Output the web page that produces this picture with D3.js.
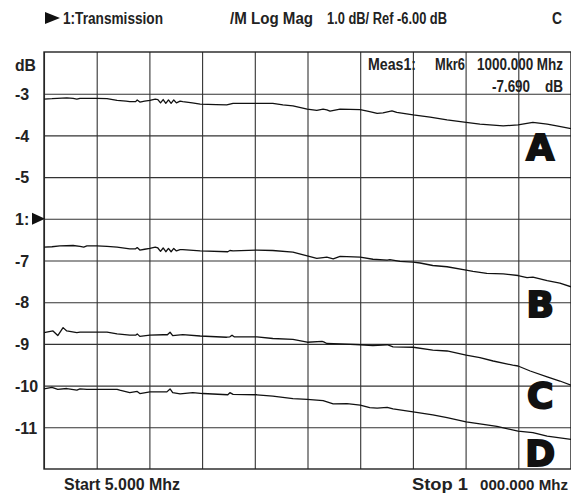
<!DOCTYPE html>
<html>
<head>
<meta charset="utf-8">
<script src="https://cdn.jsdelivr.net/npm/d3@7"></script>
<style>
  body { margin: 0; background: #fff; }
  svg { display: block; }
  text { font-family: "Liberation Sans Narrow", "Arial Narrow", "Liberation Sans", sans-serif; font-weight: bold; fill: #222; white-space: pre; }
  .big { font-family: "DejaVu Sans", sans-serif; font-weight: bold; fill: #111; stroke: #111; stroke-width: 2; }
</style>
</head>
<body>
<svg id="chart" width="571" height="496"></svg>
<script>
// frequency (MHz) / magnitude (dB)
const traceA = [[5,-3.13],[20,-3.12],[30,-3.11],[48,-3.10],[60,-3.11],[67,-3.13],[73,-3.11],[86,-3.11],[105,-3.11],[124,-3.12],[143,-3.16],[160,-3.18],[167,-3.19],[178,-3.19],[181,-3.15],[186,-3.20],[195,-3.18],[205,-3.16],[215,-3.13],[220,-3.14],[225,-3.22],[230,-3.14],[235,-3.23],[240,-3.15],[245,-3.23],[250,-3.15],[255,-3.22],[262,-3.18],[267,-3.19],[285,-3.22],[300,-3.25],[330,-3.26],[350,-3.27],[356,-3.25],[362,-3.23],[407,-3.23],[437,-3.23],[456,-3.27],[475,-3.29],[502,-3.37],[520,-3.40],[532,-3.37],[539,-3.39],[545,-3.42],[564,-3.37],[602,-3.38],[620,-3.43],[634,-3.47],[645,-3.46],[662,-3.41],[671,-3.45],[702,-3.51],[734,-3.56],[766,-3.63],[802,-3.69],[828,-3.73],[872,-3.77],[900,-3.75],[928,-3.69],[955,-3.73],[973,-3.77],[1000,-3.84]];
const traceB = [[5,-6.68],[20,-6.67],[35,-6.65],[60,-6.64],[73,-6.66],[80,-6.68],[86,-6.65],[105,-6.65],[124,-6.66],[143,-6.68],[167,-6.72],[178,-6.72],[181,-6.69],[186,-6.75],[195,-6.73],[205,-6.71],[215,-6.68],[220,-6.70],[225,-6.78],[230,-6.70],[235,-6.79],[240,-6.71],[245,-6.79],[250,-6.71],[255,-6.77],[262,-6.74],[267,-6.74],[300,-6.77],[352,-6.79],[356,-6.76],[362,-6.77],[407,-6.75],[437,-6.76],[475,-6.80],[502,-6.89],[520,-6.95],[532,-6.93],[539,-6.92],[551,-6.96],[564,-6.90],[602,-6.92],[626,-6.97],[653,-6.99],[658,-6.98],[677,-7.02],[702,-7.04],[715,-7.06],[739,-7.12],[766,-7.15],[802,-7.23],[815,-7.26],[841,-7.31],[872,-7.32],[900,-7.36],[917,-7.41],[928,-7.40],[955,-7.48],[979,-7.54],[1000,-7.63]];
const traceC = [[5,-8.73],[22,-8.69],[31,-8.80],[41,-8.61],[48,-8.69],[67,-8.73],[73,-8.72],[86,-8.72],[124,-8.72],[143,-8.76],[167,-8.79],[178,-8.79],[181,-8.76],[186,-8.82],[205,-8.79],[230,-8.78],[238,-8.78],[243,-8.72],[248,-8.80],[267,-8.78],[300,-8.81],[350,-8.84],[356,-8.83],[360,-8.79],[364,-8.83],[407,-8.83],[437,-8.87],[475,-8.89],[502,-8.96],[530,-8.94],[533,-8.95],[539,-8.99],[564,-9.00],[602,-9.02],[626,-9.04],[653,-9.02],[664,-9.07],[702,-9.08],[739,-9.15],[766,-9.17],[802,-9.27],[828,-9.33],[853,-9.41],[890,-9.51],[900,-9.53],[923,-9.65],[955,-9.79],[979,-9.89],[1000,-9.99]];
const traceD = [[5,-10.08],[20,-10.04],[31,-10.09],[48,-10.07],[67,-10.11],[73,-10.08],[86,-10.09],[105,-10.09],[143,-10.09],[148,-10.11],[167,-10.17],[181,-10.14],[186,-10.19],[205,-10.15],[237,-10.15],[243,-10.08],[248,-10.17],[262,-10.20],[286,-10.17],[305,-10.19],[352,-10.22],[356,-10.17],[362,-10.21],[407,-10.22],[437,-10.25],[475,-10.31],[502,-10.33],[532,-10.36],[551,-10.44],[577,-10.43],[602,-10.47],[620,-10.53],[634,-10.54],[653,-10.52],[664,-10.56],[702,-10.63],[739,-10.70],[766,-10.77],[802,-10.87],[828,-10.92],[860,-10.98],[900,-11.09],[928,-11.13],[955,-11.21],[1000,-11.29]];

const traceNames = ["A", "B", "C", "D"];
const labelLevels = [-4.59, -8.36, -10.54, -11.93];   // baseline of the big letters (dB)
const yTicks = [-3, -4, -5, -6, -7, -8, -9, -10, -11];
const yTickLabels = ["-3", "-4", "-5", "1:", "-7", "-8", "-9", "-10", "-11"];
const xGrid = [5, 104.5, 204, 303.5, 403, 502.5, 602, 701.5, 801, 900.5, 1000];

let margin = {top: 52, left: 44},
  width = 527,
  height = 417;

let svg = d3.select("#chart");

let x = d3.scaleLinear().domain([5, 1000]).range([0, width]),
  y = d3.scaleLinear().domain([-12, -2]).range([height, 0]);

let g = svg.append("g")
  .attr("transform", "translate(" + margin.left + "," + margin.top + ")");

// grid
g.append("g")
  .attr("class", "grid-x")
  .attr("transform", "translate(0," + height + ")")
  .call(d3.axisBottom(x).tickValues(xGrid).tickSize(-height).tickFormat(""))
  .call(s => s.select(".domain").remove());

g.append("g")
  .attr("class", "grid-y")
  .call(d3.axisLeft(y).tickValues(yTicks).tickSize(-width)
    .tickFormat((d, i) => yTickLabels[i]))
  .call(s => s.select(".domain").remove());

g.selectAll(".grid-x line, .grid-y line")
  .attr("stroke", "#333")
  .attr("stroke-width", 1.1);

g.selectAll(".grid-y text")
  .attr("x", 15 - margin.left)
  .attr("dy", "0.36em")
  .attr("text-anchor", "start")
  .attr("font-size", 16)
  .style("font-family", null);

// frame
g.append("rect")
  .attr("width", width)
  .attr("height", height)
  .attr("fill", "none")
  .attr("stroke", "#222")
  .attr("stroke-width", 1.4);

// reference marker "1:"
let yr = y(-6);
g.append("path")
  .attr("d", "M" + (-12) + "," + (yr - 6) + "L" + 1 + "," + yr + "L" + (-12) + "," + (yr + 6) + "Z")
  .attr("fill", "#111");

// traces
let line = d3.line()
  .x(d => x(d[0]))
  .y(d => y(d[1]));

[traceA, traceB, traceC, traceD].forEach(t => {
  g.append("path")
    .datum(t)
    .attr("fill", "none")
    .attr("stroke", "#111")
    .attr("stroke-width", 1.3)
    .attr("stroke-linejoin", "round")
    .attr("d", line);
});

// big trace letters
g.selectAll(".big")
  .data(traceNames)
  .enter().append("text")
  .attr("class", "big")
  .attr("x", x(942))
  .attr("y", (d, i) => y(labelLevels[i]))
  .attr("font-size", 36)
  .attr("text-anchor", "middle")
  .text(d => d);

// plain text, with the width each one takes in the picture
function label(tx, px, py, w, anchor, size) {
  return svg.append("text")
    .attr("x", px).attr("y", py)
    .attr("font-size", size || 16)
    .attr("text-anchor", anchor || "start")
    .attr("textLength", w)
    .attr("lengthAdjust", "spacingAndGlyphs")
    .text(tx);
}

// header
svg.append("path")
  .attr("d", "M45,12L60,18L45,24Z")
  .attr("fill", "#111");
label("1:Transmission", 63, 23.5, 100);
label("/M Log Mag", 230, 23.5, 83);
label("1.0 dB/ Ref -6.00 dB", 327, 23.5, 120);
label("C", 562, 23.5, 10, "end");

label("dB", 15, 71, 21);

// marker readout
label("Meas1:", 368, 69.5, 48);
label("Mkr6", 435, 69.5, 30);
label("1000.000 Mhz", 563, 69.5, 86, "end");
label("-7.690", 492, 92, 38);
label("dB", 563, 92, 18, "end");

// footer
label("Start 5.000 Mhz", 64, 490, 116);
label("Stop 1", 412, 490, 56);
label("000.000 Mhz", 568, 490, 88, "end", 15.5);
</script>
</body>
</html>
